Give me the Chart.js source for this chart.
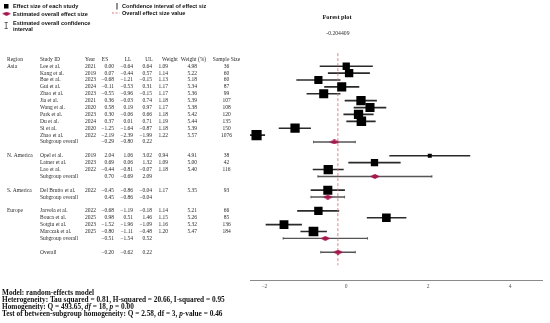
<!DOCTYPE html>
<html>
<head>
<meta charset="utf-8">
<script src="https://cdn.jsdelivr.net/npm/chart.js@4.4.1/dist/chart.umd.min.js"></script>
<style>
	html, body { margin: 0; padding: 0; background: #fff; }
	#wrap { width: 550px; height: 323px; position: relative; }
</style>
</head>
<body>
<div id="wrap"><canvas id="forest"></canvas></div>
<script>
// table rows, top to bottom ('s' study, 'g' subgroup overall, 'o' overall)
const rowKind = ['s','s','s','s','s','s','s','s','s','s','s','g', 's','s','s','g', 's','g', 's','s','s','s','g', 'o'];
const regionLabel = ['Asia','','','','','','','','','','','', 'N. America','','','', 'S. America','', 'Europe','','','','', ''];
const studyId = ['Lee et al.','Kang et al.','Bae et al.','Gui et al.','Zhao et al.','Jia et al.','Wang et al.','Park et al.','Du et al.','Si et al.','Zhao et al.','Subgroup overall',
	'Opel et al.','Latner et al.','Lao et al.','Subgroup overall',
	'Del Brutto et al.','Subgroup overall',
	'Jarvela et al.','Bouca et al.','Sotgiu et al.','Marczak et al.','Subgroup overall',
	'Overall'];
const year = [2021,2019,2023,2024,2023,2021,2020,2023,2024,2020,2022,null, 2019,2023,2022,null, 2022,null, 2022,2025,2023,2025,null, null];
const es = [0.00,0.07,-0.68,-0.11,-0.55,0.36,0.58,0.30,0.37,-1.25,-2.19,-0.29, 2.04,0.69,-0.44,0.70, -0.45,-0.45, -0.68,0.98,-1.52,-0.80,-0.51, -0.20];
const ll = [-0.64,-0.44,-1.21,-0.53,-0.96,-0.03,0.19,-0.06,0.01,-1.64,-2.39,-0.80, 1.06,0.06,-0.81,-0.69, -0.86,-0.86, -1.19,0.51,-1.96,-1.11,-1.54, -0.62];
const ul = [0.64,0.57,-0.15,0.31,-0.15,0.74,0.97,0.66,0.71,-0.87,-1.99,0.22, 3.02,1.32,-0.07,2.09, -0.04,-0.04, -0.18,1.46,-1.09,-0.48,0.52, 0.22];
const weight = [1.09,1.14,1.13,1.17,1.17,1.18,1.17,1.18,1.19,1.18,1.22,null, 0.94,1.09,1.18,null, 1.17,null, 1.14,1.15,1.16,1.20,null, null];
const weightPct = [4.98,5.22,5.18,5.34,5.36,5.39,5.38,5.42,5.44,5.39,5.57,null, 4.91,5.00,5.40,null, 5.35,null, 5.21,5.26,5.32,5.47,null, null];
const sampleSize = [36,60,60,87,99,107,108,120,135,150,1076,null, 38,42,116,null, 93,null, 66,85,136,184,null, null];
// the printed table shows this subgroup ES without its sign
const esPrinted = {17: '0.45'};

const overallValue = -0.204409;
const xTicks = [-2, 0, 2, 4];
const headers = ['Region','Study ID','Year','ES','LL','UL','Weight','Weight (%)','Sample Size'];

const footerLines = [
	[['Model: random-effects model']],
	[['Heterogeneity: Tau squared = 0.81, H-squared = 20.66, I-squared = 0.95']],
	[['Homogeneity: Q = 493.65, '], ['df', true], [' = 18, '], ['p', true], [' = 0.00']],
	[['Test of between-subgroup homogeneity: Q = 2.58, df = 3, '], ['p', true], ['-value = 0.46']],
];

const CRIMSON = '#a3174c';
const SERIF = '"Liberation Serif", "DejaVu Serif", serif';
const SANS = '"Liberation Sans", Arial, sans-serif';

// row positions on the y scale, one blank row after each subgroup
const rowPos = [];
let r = 0;
rowKind.forEach(function (k) {
	rowPos.push(r);
	r += (k === 'g') ? 2 : 1;
});
const yMin = -1.9, yMax = 28.9;

const studyRows = rowKind.map((k, i) => k === 's' ? i : -1).filter(i => i >= 0);
const sumRows = rowKind.map((k, i) => k !== 's' ? i : -1).filter(i => i >= 0);

function fmt(v) {
	return v.toFixed(2).replace('-', '\u2212');
}

function diamondImage(w, h, color) {
	const c = document.createElement('canvas');
	c.width = w;
	c.height = h;
	const g = c.getContext('2d');
	g.fillStyle = color;
	g.beginPath();
	g.moveTo(0, h / 2);
	g.lineTo(w / 2, 0);
	g.lineTo(w, h / 2);
	g.lineTo(w / 2, h);
	g.closePath();
	g.fill();
	return c;
}

const diamond = diamondImage(10, 5, CRIMSON);

const tablePlugin = {
	id: 'forestTable',
	afterDraw: function (chart) {
		const ctx = chart.ctx;
		const y = chart.scales.y;
		const x = chart.scales.x;

		ctx.save();
		ctx.textBaseline = 'middle';

		// legend
		ctx.fillStyle = '#000';
		ctx.fillRect(4, 4, 4.5, 4.5);
		ctx.drawImage(diamond, 2, 11.5, 9, 4.5);
		ctx.strokeStyle = '#444';
		ctx.lineWidth = 0.8;
		ctx.beginPath();
		ctx.moveTo(6.2, 22.5); ctx.lineTo(6.2, 28.5);
		ctx.moveTo(4.6, 22.5); ctx.lineTo(7.8, 22.5);
		ctx.moveTo(4.6, 28.5); ctx.lineTo(7.8, 28.5);
		ctx.stroke();
		ctx.strokeStyle = '#222';
		ctx.lineWidth = 1;
		ctx.beginPath();
		ctx.moveTo(117, 3); ctx.lineTo(117, 9.5);
		ctx.stroke();
		ctx.strokeStyle = 'rgba(222,110,110,0.9)';
		ctx.setLineDash([2, 1.5]);
		ctx.beginPath();
		ctx.moveTo(112, 13); ctx.lineTo(119.5, 13);
		ctx.stroke();
		ctx.setLineDash([]);

		ctx.font = 'bold 5.6px ' + SANS;
		ctx.fillStyle = '#111';
		ctx.textAlign = 'left';
		ctx.fillText('Effect size of each study', 13, 6.5);
		ctx.fillText('Estimated overall effect size', 13, 14);
		ctx.fillText('Estimated overall confidence', 13, 23.5);
		ctx.fillText('interval', 13, 29.3);
		ctx.fillText('Confidence interval of effect siz', 122, 6.5);
		ctx.fillText('Overall effect size value', 122, 13.5);

		// title and overall value
		ctx.textAlign = 'center';
		ctx.font = 'bold 6.3px ' + SERIF;
		ctx.fillStyle = '#111';
		ctx.fillText('Forest plot', 337, 17.5);
		ctx.font = '5.7px ' + SERIF;
		ctx.fillStyle = '#333';
		ctx.fillText(String(overallValue), x.getPixelForValue(overallValue), 34);

		// table
		ctx.font = '5.5px ' + SERIF;
		ctx.fillStyle = '#2a2a2a';
		const hy = y.getPixelForValue(-1);
		const headX = [[7, 'left'], [40, 'left'], [85, 'left'], [105, 'center'], [128, 'center'], [149, 'center'], [162, 'left'], [193.5, 'center'], [226.5, 'center']];
		headers.forEach(function (h, j) {
			ctx.textAlign = headX[j][1];
			ctx.fillText(h, headX[j][0], hy);
		});

		rowKind.forEach(function (k, i) {
			const py = y.getPixelForValue(rowPos[i]);
			ctx.textAlign = 'left';
			if (regionLabel[i]) ctx.fillText(regionLabel[i], 7, py);
			ctx.fillText(studyId[i], 40, py);
			if (year[i] !== null) ctx.fillText(String(year[i]), 85, py);
			ctx.textAlign = 'right';
			ctx.fillText(esPrinted[i] || fmt(es[i]), 114, py);
			ctx.fillText(fmt(ll[i]), 133, py);
			ctx.fillText(fmt(ul[i]), 152, py);
			if (weight[i] !== null) ctx.fillText(weight[i].toFixed(2), 168, py);
			if (weightPct[i] !== null) ctx.fillText(weightPct[i].toFixed(2), 197, py);
			ctx.textAlign = 'center';
			if (sampleSize[i] !== null) ctx.fillText(String(sampleSize[i]), 226.5, py);
		});

		// footer
		ctx.textAlign = 'left';
		ctx.fillStyle = '#111';
		footerLines.forEach(function (segs, li) {
			let px = 2;
			const py = 293.3 + li * 7;
			segs.forEach(function (s) {
				ctx.font = (s[1] ? 'italic bold ' : 'bold ') + '7.3px ' + SERIF;
				ctx.fillText(s[0], px, py);
				px += ctx.measureText(s[0]).width;
			});
		});

		ctx.restore();
	}
};

new Chart(document.getElementById('forest'), {
	type: 'scatter',
	data: {
		datasets: [
			{
				label: 'Effect size of each study',
				data: studyRows.map(i => ({x: es[i], y: rowPos[i]})),
				pointStyle: 'rect',
				pointRadius: studyRows.map(i => (4 + (weight[i] - 0.94) * 22) / Math.SQRT2),
				backgroundColor: '#000',
				borderWidth: 0,
			},
			{
				label: 'Estimated overall effect size',
				data: sumRows.map(i => ({x: es[i], y: rowPos[i]})),
				pointStyle: diamond,
				pointRadius: 5,
			},
			{
				label: 'caps',
				data: sumRows.flatMap(i => [{x: ll[i], y: rowPos[i]}, {x: ul[i], y: rowPos[i]}]),
				pointStyle: 'line',
				rotation: 90,
				pointRadius: 1.3,
				borderColor: '#555',
				borderWidth: 0.8,
			},
			{
				type: 'line',
				label: 'Overall effect size value',
				data: [{x: overallValue, y: yMin}, {x: overallValue, y: yMax}],
				borderColor: 'rgba(222,110,110,0.85)',
				borderDash: [3, 2],
				borderWidth: 1,
				pointRadius: 0,
			},
			{
				type: 'bar',
				label: 'Estimated overall confidence interval',
				indexAxis: 'y',
				grouped: false,
				barThickness: 0.8,
				backgroundColor: '#555',
				data: sumRows.map(i => ({y: rowPos[i], x: [ll[i], ul[i]]})),
			},
			{
				type: 'bar',
				label: 'Confidence interval of effect size',
				indexAxis: 'y',
				grouped: false,
				barThickness: 1,
				backgroundColor: '#2a2a2a',
				data: studyRows.map(i => ({y: rowPos[i], x: [ll[i], ul[i]]})),
			},
		]
	},
	options: {
		responsive: true,
		maintainAspectRatio: false,
		animation: false,
		events: [],
		layout: {
			padding: {left: 250, right: 2, top: 38, bottom: 30}
		},
		plugins: {
			legend: {display: false},
			tooltip: {enabled: false},
		},
		scales: {
			x: {
				type: 'linear',
				min: -2.35,
				max: 4.8,
				afterBuildTicks: function (scale) {
					scale.ticks = xTicks.map(v => ({value: v}));
				},
				grid: {display: false, drawTicks: false},
				border: {display: true, color: '#8a8a8a', width: 1},
				ticks: {
					padding: 3,
					color: '#555',
					font: {family: SERIF, size: 5.5},
					callback: v => String(v).replace('-', '\u2212'),
				},
			},
			y: {
				type: 'linear',
				display: false,
				reverse: true,
				min: yMin,
				max: yMax,
			},
		},
	},
	plugins: [tablePlugin],
});
</script>
</body>
</html>
